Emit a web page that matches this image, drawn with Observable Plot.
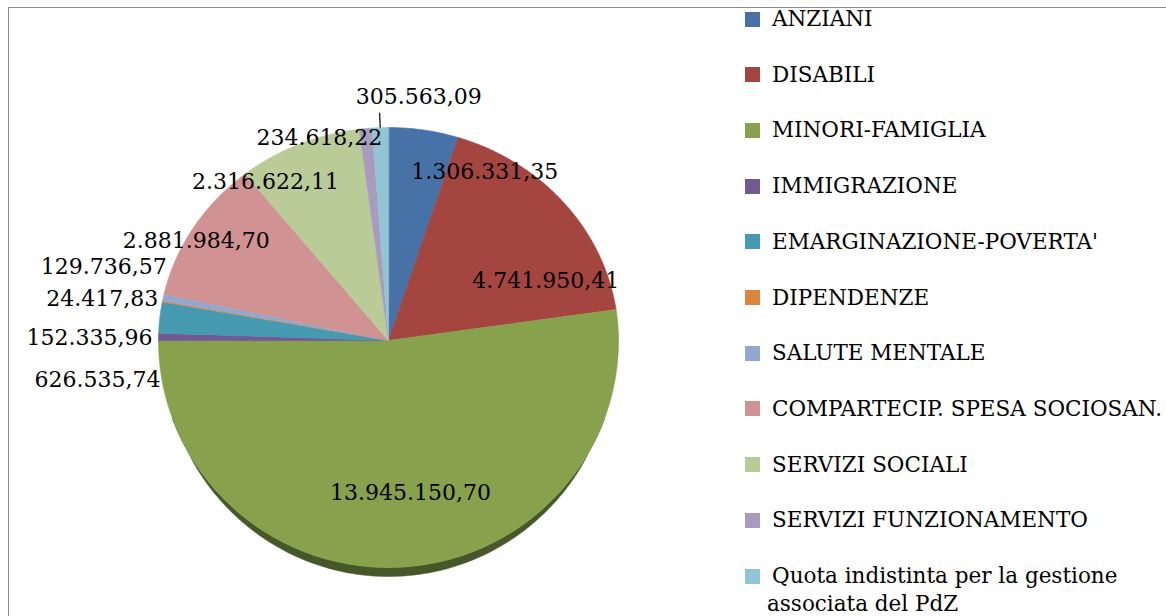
<!DOCTYPE html>
<html><head><meta charset="utf-8">
<script src="https://cdn.jsdelivr.net/npm/d3@7"></script>
<script src="https://cdn.jsdelivr.net/npm/@observablehq/plot@0.6"></script>
<style>
html,body{margin:0;padding:0;background:#fff;}
#wrap{position:relative;width:1166px;height:616px;overflow:hidden;font-family:"DejaVu Serif",serif;}
#frame{position:absolute;left:8px;top:7px;width:1170px;height:620px;border-top:1px solid #8c8c8c;border-left:1px solid #8c8c8c;}
#chart{position:absolute;left:0;top:0;}
#legend{position:absolute;left:0;top:0;width:1166px;height:616px;}
.item{position:absolute;font-size:21.5px;color:#000;line-height:28px;}
.sw{position:absolute;width:15px;height:15px;}
</style></head><body>
<div id="wrap"><div id="frame"></div><div id="chart"></div><div id="legend"></div></div>
<script>
// ---- data ----
const categories = ["ANZIANI","DISABILI","MINORI-FAMIGLIA","IMMIGRAZIONE","EMARGINAZIONE-POVERTA'","DIPENDENZE","SALUTE MENTALE","COMPARTECIP. SPESA SOCIOSAN.","SERVIZI SOCIALI","SERVIZI FUNZIONAMENTO","Quota indistinta per la gestione associata del PdZ"];
const values = [1306331.35, 4741950.41, 13945150.70, 152335.96, 626535.74, 24417.83, 129736.57, 2881984.70, 2316622.11, 234618.22, 305563.09];
const colors = ["#4672A8","#A4453F","#87A14D","#715A91","#4599B1","#DC853D","#93A8D0","#D09292","#B9CC97","#A89BBE","#92C4D6"];

// ---- label layout (shift from slice mid-angle in degrees, radius in pie units, anchor) ----
const labelLayout = [
  {dDeg: 19.1, r: 0.893, anchor: "middle"},
  {dDeg: 18.0, r: 0.739, anchor: "middle"},
  {dDeg: -3.9, r: 0.677, anchor: "middle"},
  {dDeg: -0.4, r: 1.026, anchor: "end"},
  {dDeg: -16.2, r: 1.007, anchor: "end"},
  {dDeg: 0.4, r: 1.02, anchor: "end"},
  {dDeg: 8.0, r: 1.024, anchor: "end"},
  {dDeg: -2.7, r: 0.958, anchor: "middle"},
  {dDeg: -12.7, r: 0.918, anchor: "middle"},
  {dDeg: 4.1, r: 0.95, anchor: "end"},
  {dDeg: 8.6, r: 1.153, anchor: "middle"}
];

const fmt = d3.formatLocale({decimal: ",", thousands: ".", grouping: [3], currency: ["", "€"]}).format(",.2f");
const total = d3.sum(values);
let acc = 0;
const slices = categories.map((c, i) => {
  const a0 = acc / total * 2 * Math.PI; acc += values[i];
  const a1 = acc / total * 2 * Math.PI;
  return {c, v: values[i], a0, a1, mid: (a0 + a1) / 2, i};
});
const KB = 227 / 213; // perspective: lower half slightly taller
const pt = (a, r) => ({u: r * Math.sin(a), v: r * Math.cos(a) * (Math.cos(a) < 0 ? KB : 1)});

const slicePts = slices.flatMap(s => {
  const n = Math.max(2, Math.ceil((s.a1 - s.a0) / (Math.PI / 360)));
  const arr = [{c: s.c, u: 0, v: 0}];
  for (let j = 0; j <= n; j++) arr.push({c: s.c, ...pt(s.a0 + (s.a1 - s.a0) * j / n, 1)});
  return arr;
});
// 3D rim under the bottom edge, tapering to nothing at the sides
const D = 9 / 213;
const rimTop = d3.range(110, 251).map(k => pt(k * Math.PI / 180, 1));
const rimBottom = d3.range(250, 109, -1).map(k => {
  const a = k * Math.PI / 180, p = pt(a, 1);
  const t = Math.max(0, (-Math.cos(a) - 0.5) / 0.5);
  return {u: p.u, v: p.v - D * Math.pow(t, 0.6)};
});
const rimPts = rimTop.concat(rimBottom);

const labels = slices.map(s => {
  const L = labelLayout[s.i];
  const p = pt(s.mid + L.dDeg * Math.PI / 180, L.r);
  return {...p, text: fmt(s.v), anchor: L.anchor};
});
const last = slices[slices.length - 1];
const leader = [{x1: pt(last.mid, 1.0).u, y1: pt(last.mid, 1.0).v, x2: pt(last.mid, 1.07).u, y2: pt(last.mid, 1.07).v}];

const chart = Plot.plot({
  width: 1166, height: 616, margin: 0,
  x: {domain: [-388 / 230, (1166 - 388) / 230], range: [0, 1166], axis: null},
  y: {domain: [(340 - 616) / 213, 340 / 213], range: [616, 0], axis: null},
  color: {domain: categories, range: colors},
  style: {background: "transparent", fontFamily: "DejaVu Serif", overflow: "visible"},
  marks: [
    Plot.line(rimPts, {x: "u", y: "v", fill: "#46572A", stroke: "#46572A", strokeWidth: 0.5, curve: "linear-closed"}),
    Plot.line(slicePts, {x: "u", y: "v", z: "c", fill: "c", stroke: "c", strokeWidth: 0.6, curve: "linear-closed"}),
    Plot.link(leader, {x1: "x1", y1: "y1", x2: "x2", y2: "y2", stroke: "#000", strokeWidth: 1.2}),
    Plot.text(labels.filter(d => d.anchor === "middle"), {x: "u", y: "v", text: "text", textAnchor: "middle", fontSize: 22, fill: "#000"}),
    Plot.text(labels.filter(d => d.anchor === "end"), {x: "u", y: "v", text: "text", textAnchor: "end", fontSize: 22, fill: "#000"})
  ]
});
document.getElementById("chart").appendChild(chart);

// ---- legend ----
const legend = document.getElementById("legend");
categories.forEach((c, i) => {
  const cy = 19 + i * 55.7;
  const sw = document.createElement("div");
  sw.className = "sw";
  sw.style.left = "745px"; sw.style.top = (cy - 7.5) + "px"; sw.style.background = colors[i];
  legend.appendChild(sw);
  const t = document.createElement("div");
  t.className = "item";
  t.style.left = "767px"; t.style.textIndent = "5px";
  if (i === categories.length - 1) { t.style.width = "392px"; }
  else { t.style.whiteSpace = "nowrap"; }
  t.style.top = (cy - 14) + "px";
  t.textContent = c;
  legend.appendChild(t);
});
</script>
</body></html>
